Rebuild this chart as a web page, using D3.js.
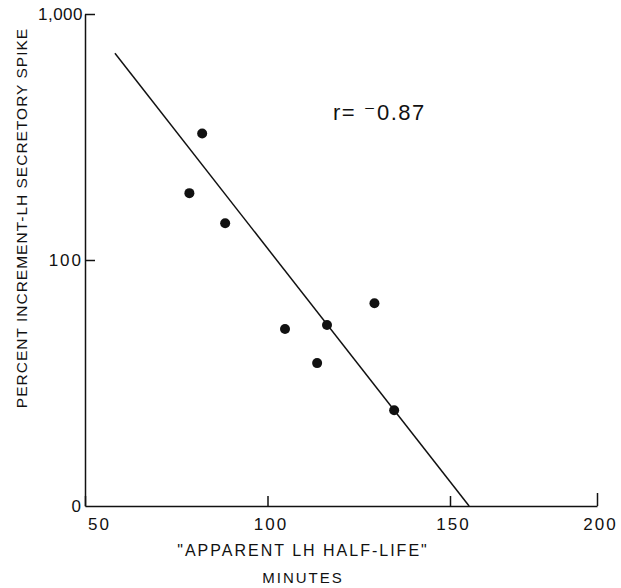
<!DOCTYPE html>
<html>
<head>
<meta charset="utf-8">
<script src="https://cdn.jsdelivr.net/npm/d3@7"></script>
<style>
  body { margin: 0; background: #fff; }
  svg text { font-family: "Liberation Sans", "DejaVu Sans", sans-serif; fill: #111; }
</style>
</head>
<body>
<svg id="svg_main"></svg>
<script>
// half-life (minutes) vs percent increment of LH secretory spike
const halfLife = [82.1, 78.6, 88.4, 129.3, 104.8, 116.3, 113.6, 134.7];
const increment = [327, 187, 141, 66.7, 52.4, 54.4, 38.1, 24.5];
// fitted line ends
const fitX = [58.2, 156.5];
const fitY = [692, 10];
const xTicks = [50, 100, 150, 200];
const yTicks = [10, 100, 1000];
const yTickLabels = ['0', '100', '1,000'];

const width = 621, height = 588;

const svg = d3.select('#svg_main')
    .attr('width', width)
    .attr('height', height);

// x axis in the figure is not evenly spaced, hence the piecewise scale
const x = d3.scaleLinear().domain([50, 150, 200]).range([85, 450, 597]);
const y = d3.scaleLog().domain([10, 1000]).range([506, 14]);

const xAxis = svg.append('g')
    .attr('transform', `translate(0,${y(10)})`)
    .call(d3.axisBottom(x).tickValues(xTicks).tickSizeInner(-10).tickSizeOuter(0).tickPadding(12).tickFormat(d3.format('d')));
xAxis.selectAll('text')
    .attr('font-size', 17)
    .attr('letter-spacing', 2)
    .attr('dx', d => d === 50 ? 14 : 3);
xAxis.selectAll('.tick line').filter(d => d === 200).attr('y2', -13);

const yAxis = svg.append('g')
    .attr('transform', `translate(${x(50)},0)`)
    .call(d3.axisLeft(y).tickValues(yTicks).tickSizeInner(-10).tickSizeOuter(0).tickPadding(2)
        .tickFormat((d, i) => yTickLabels[i]));
yAxis.selectAll('text')
    .attr('font-size', 17)
    .attr('letter-spacing', d => d === 1000 ? 0.5 : 2);
yAxis.selectAll('.tick line').filter(d => d === 10).remove();

svg.selectAll('.domain').attr('stroke', '#111').attr('stroke-width', 1.5);
svg.selectAll('.tick line').attr('stroke', '#111').attr('stroke-width', 1.5);

// regression line
svg.append('line')
    .attr('x1', x(fitX[0])).attr('y1', y(fitY[0]))
    .attr('x2', x(fitX[1])).attr('y2', y(fitY[1]))
    .attr('stroke', '#111')
    .attr('stroke-width', 1.5);

svg.append('g')
    .selectAll('circle')
    .data(halfLife.map((h, i) => ({h, v: increment[i]})))
    .join('circle')
    .attr('cx', d => x(d.h))
    .attr('cy', d => y(d.v))
    .attr('r', 5)
    .attr('fill', '#111');

svg.append('text')
    .attr('x', 333).attr('y', 120)
    .attr('font-size', 22)
    .attr('letter-spacing', 1.5)
    .text('r= \u207B0.87');

svg.append('text')
    .attr('transform', 'translate(27,218) rotate(-90)')
    .attr('text-anchor', 'middle')
    .attr('font-size', 15.5)
    .attr('letter-spacing', 1)
    .text('PERCENT INCREMENT-LH SECRETORY SPIKE');

svg.append('text')
    .attr('x', 303).attr('y', 556)
    .attr('text-anchor', 'middle')
    .attr('font-size', 16)
    .attr('letter-spacing', 2)
    .text('"APPARENT LH HALF-LIFE"');

svg.append('text')
    .attr('x', 303).attr('y', 583)
    .attr('text-anchor', 'middle')
    .attr('font-size', 15)
    .attr('letter-spacing', 2)
    .text('MINUTES');
</script>
</body>
</html>
